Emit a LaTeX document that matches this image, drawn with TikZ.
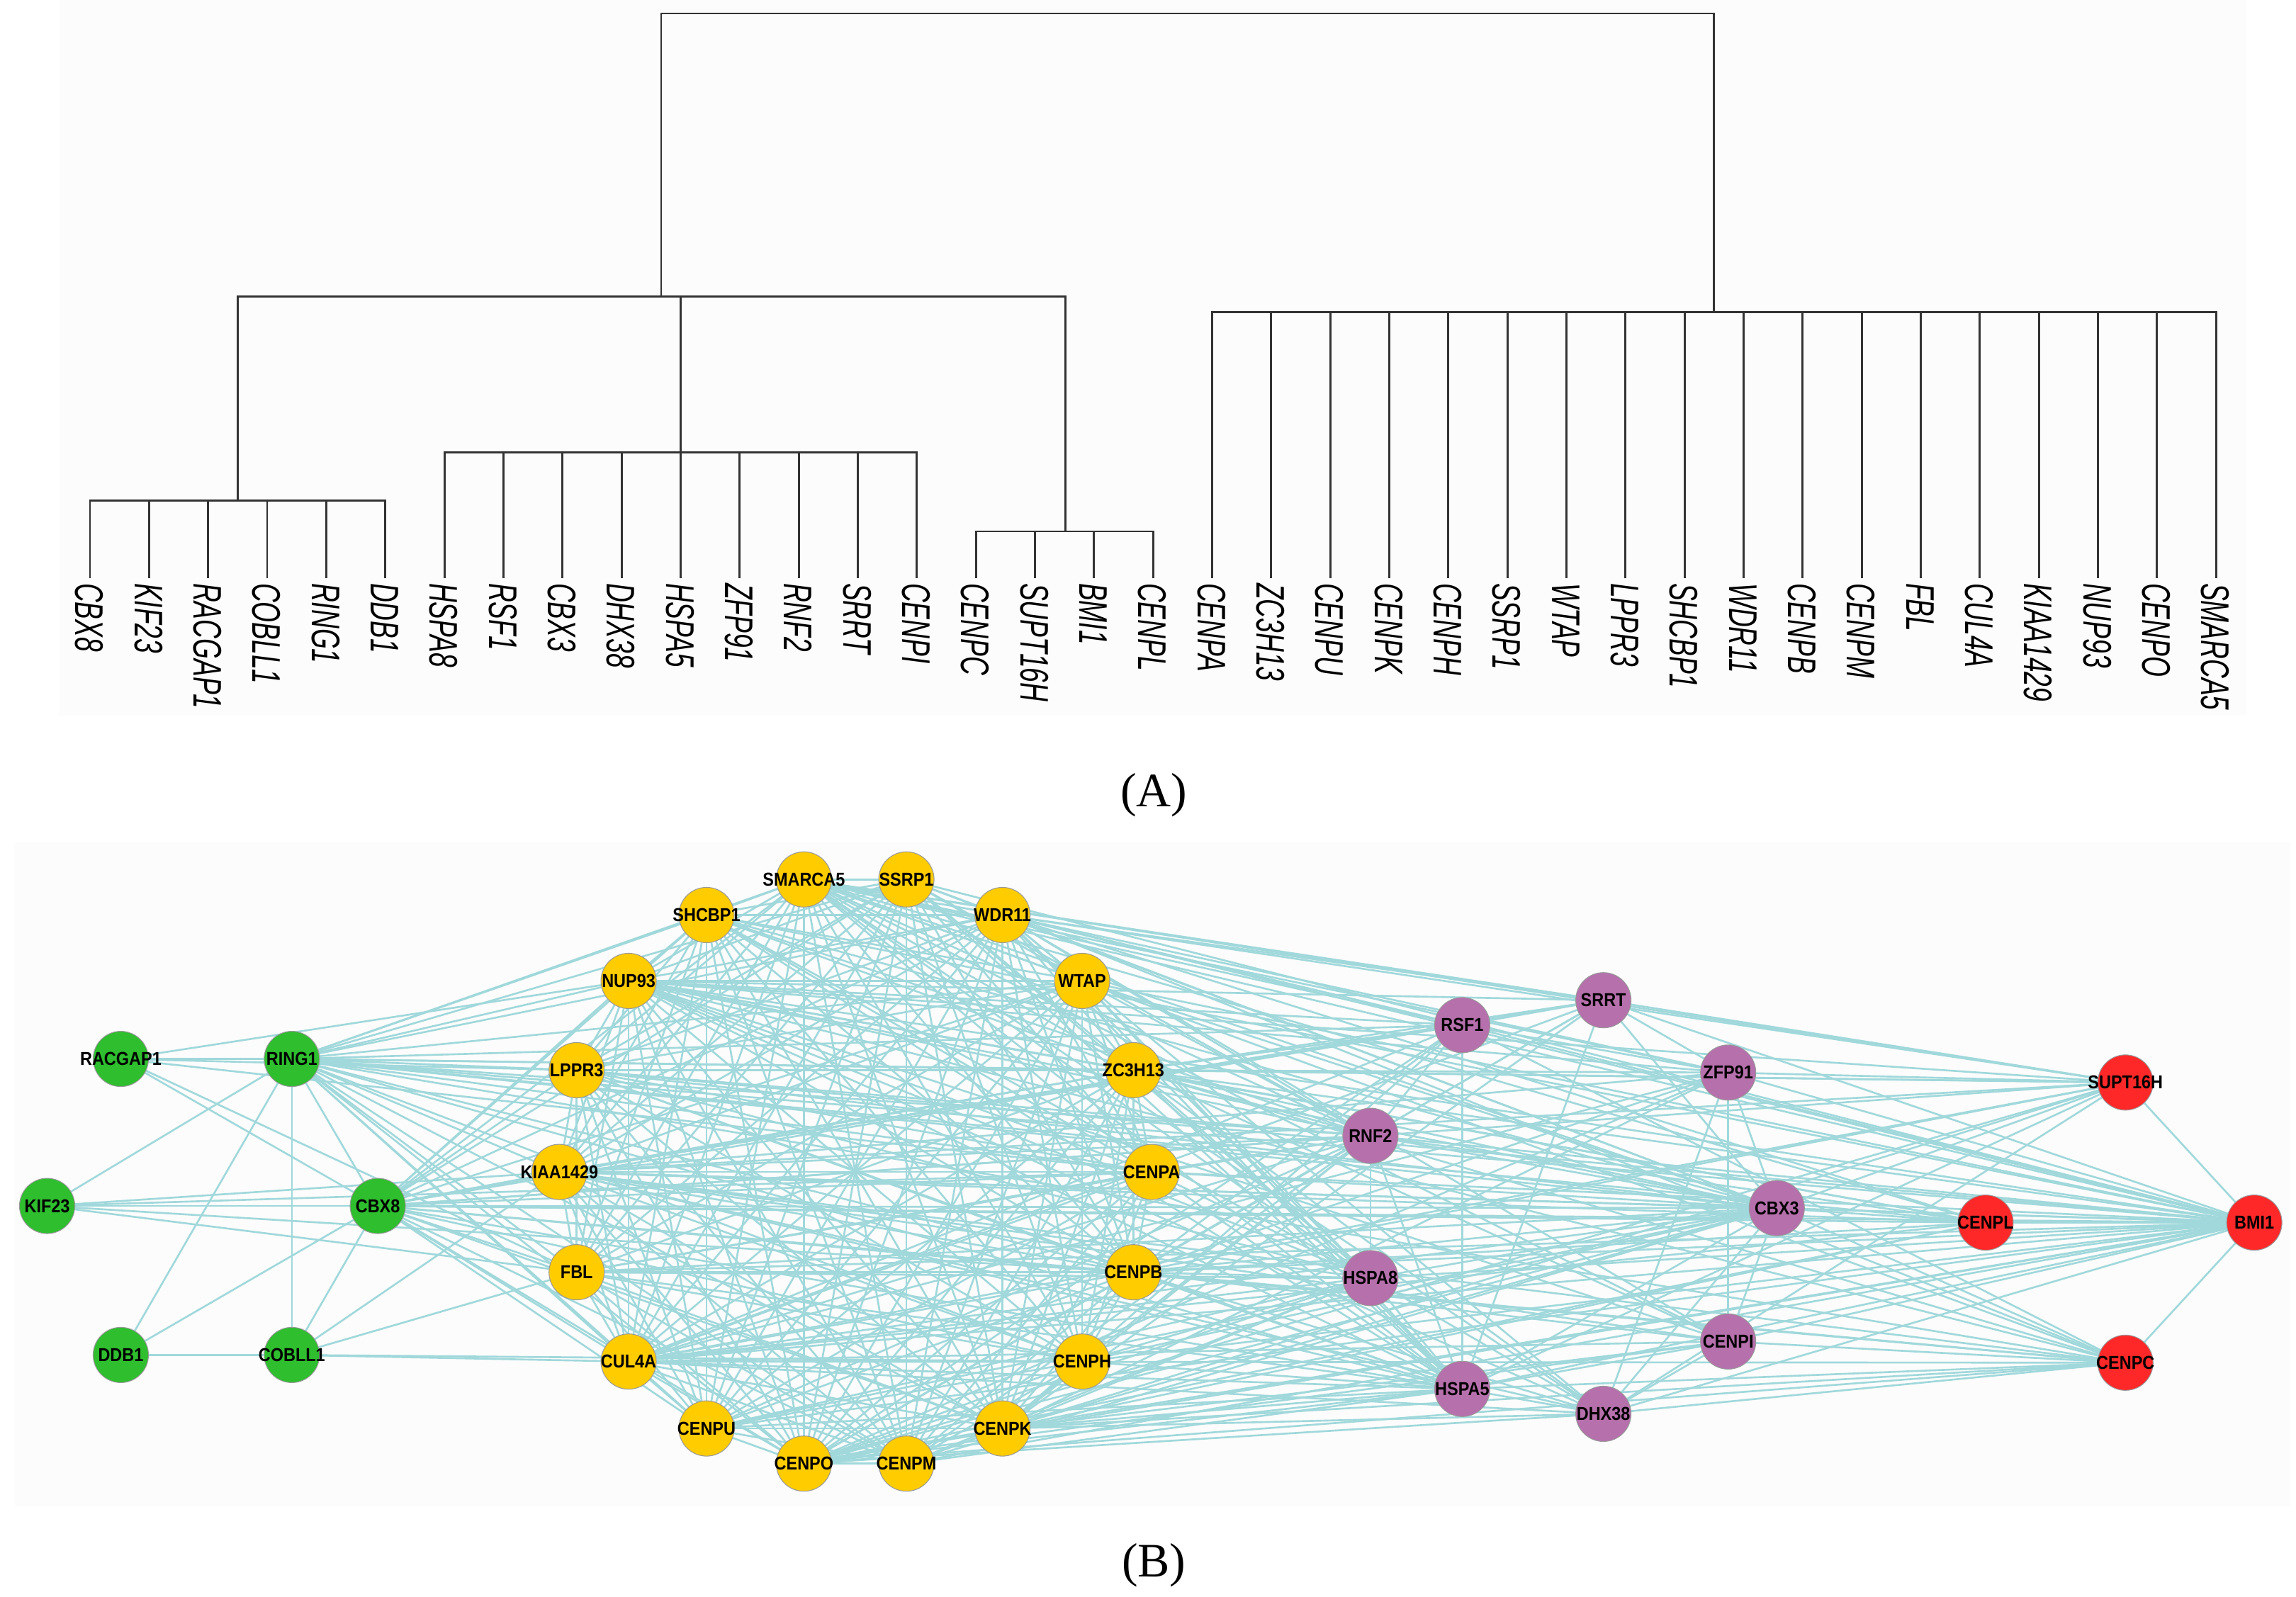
\documentclass[tikz,border=0pt]{standalone}
\usepackage{fontspec}
\usepackage{graphicx}
\setmainfont{Liberation Serif}
\newfontfamily\arial{Liberation Sans}
\definecolor{cGreen}{RGB}{46,190,46}
\definecolor{cYellow}{RGB}{255,204,0}
\definecolor{cPurple}{RGB}{182,112,172}
\definecolor{cRed}{RGB}{255,40,40}
\definecolor{cEdge}{RGB}{160,216,219}
\pgfdeclarelayer{back}
\pgfsetlayers{back,main}
\newcommand\ylist{SMARCA5,SSRP1,WDR11,WTAP,ZC3H13,CENPA,CENPB,CENPH,CENPK,CENPM,CENPO,CENPU,CUL4A,FBL,KIAA1429,LPPR3,NUP93,SHCBP1}
\tikzset{
  branch/.style={draw=black!80, line width=0.8pt},
  leaf/.style={rotate=-90, anchor=west, inner sep=0pt, text height=11.5pt, text depth=0pt,
    font=\arial\itshape\fontsize{16}{16}\selectfont},
  glbl/.style={inner sep=0pt, font=\arial\bfseries\fontsize{7.5}{8}\selectfont},
  gene/.style={circle, draw=black!40, line width=0.3pt, minimum size=7.8mm, inner sep=0pt,
    label={[glbl]center:{\scalebox{.89}[1]{#1}}}},
  edge/.style={draw=cEdge, line width=0.75pt},
  panel/.style={font=\fontsize{19.3}{22}\selectfont, anchor=base, inner sep=0pt}
}
\begin{document}
\begin{tikzpicture}[x=0.020663cm, y=-0.020663cm]
  \useasboundingbox (0,0) rectangle (1568,1090.4);
  \begin{pgfonlayer}{back}
    \fill[black!1] (40,0) rectangle (1534,489);
    \fill[black!1] (10,575) rectangle (1564,1029);
  \end{pgfonlayer}

  \foreach \n [count=\i from 0] in {CBX8,KIF23,RACGAP1,COBLL1,RING1,DDB1,HSPA8,RSF1,CBX3,DHX38,HSPA5,ZFP91,RNF2,SRRT,CENPI,CENPC,SUPT16H,BMI1,CENPL,CENPA,ZC3H13,CENPU,CENPK,CENPH,SSRP1,WTAP,LPPR3,SHCBP1,WDR11,CENPB,CENPM,FBL,CUL4A,KIAA1429,NUP93,CENPO,SMARCA5}
    \node[leaf] (t\n) at ({61.5+40.33*\i},398) {\scalebox{.66}[1]{\n}};
  \coordinate (G) at (162.5,342);
  \coordinate (P) at (465,309);
  \coordinate (Rd) at (727.5,363);
  \coordinate (L) at (451.5,202.6);
  \coordinate (Rt) at (1170.5,213);
  \coordinate (T) at (811,9.2);
  \foreach \n in {CBX8,KIF23,RACGAP1,COBLL1,RING1,DDB1}
    \draw[branch] (t\n.west) ++(0,-3) |- (G);
  \foreach \n in {HSPA8,RSF1,CBX3,DHX38,HSPA5,ZFP91,RNF2,SRRT,CENPI}
    \draw[branch] (t\n.west) ++(0,-3) |- (P);
  \foreach \n in {CENPC,SUPT16H,BMI1,CENPL}
    \draw[branch] (t\n.west) ++(0,-3) |- (Rd);
  \foreach \n in {CENPA,ZC3H13,CENPU,CENPK,CENPH,SSRP1,WTAP,LPPR3,SHCBP1,WDR11,CENPB,CENPM,FBL,CUL4A,KIAA1429,NUP93,CENPO,SMARCA5}
    \draw[branch] (t\n.west) ++(0,-3) |- (Rt);
  \draw[branch] (G) |- (L);
  \draw[branch] (P) |- (L);
  \draw[branch] (Rd) |- (L);
  \draw[branch] (L) |- (T);
  \draw[branch] (Rt) |- (T);
  \node[panel] (A) at (788,550.8) {(A)};

  \foreach \n/\x/\y in {RACGAP1/82.5/723.3, RING1/199.3/723.3, KIF23/32.2/823.7, CBX8/258/823.7, DDB1/82.5/925.5, COBLL1/199.3/925.5}
    \node[gene=\n, fill=cGreen] (\n) at (\x,\y) {};
  \foreach \n/\x/\y in {SMARCA5/549/600.7, SSRP1/619/600.7, SHCBP1/482.5/625, WDR11/684.6/625, NUP93/429.3/670, WTAP/739/670, LPPR3/393.8/731, ZC3H13/774/731, KIAA1429/382/800.5, CENPA/786.5/800.5, FBL/393.8/869, CENPB/774/869, CUL4A/429.3/930, CENPH/739/930, CENPU/482.5/975.7, CENPK/684.6/975.7, CENPO/549/999.7, CENPM/619/999.7}
    \node[gene=\n, fill=cYellow] (\n) at (\x,\y) {};
  \foreach \n/\x/\y in {SRRT/1095/683.2, RSF1/998.6/700.2, ZFP91/1180.2/732.6, RNF2/935.9/775.8, CBX3/1213.4/825.2, HSPA8/935.9/873, CENPI/1180.2/916.3, HSPA5/998.6/948.7, DHX38/1095/965.7}
    \node[gene=\n, fill=cPurple] (\n) at (\x,\y) {};
  \foreach \n/\x/\y in {SUPT16H/1451.5/739.4, CENPL/1356/835.1, BMI1/1539.5/835.1, CENPC/1451.5/930.8}
    \node[gene=\n, fill=cRed] (\n) at (\x,\y) {};

  \begin{pgfonlayer}{back}
    \foreach \a [count=\i] in \ylist {\foreach \b [count=\j] in \ylist {\ifnum\i<\j \draw[edge] (\a) -- (\b);\fi}}
    \foreach \g in {RING1,CBX8} {\foreach \b in \ylist \draw[edge] (\g) -- (\b);}
    \foreach \g in {RING1,CBX8} {\foreach \p in {RNF2,CBX3,BMI1,HSPA5,RSF1,CENPL,SUPT16H,CENPC} \draw[edge] (\g) -- (\p);}
    \foreach \b in \ylist {\foreach \p in {RNF2,CBX3,HSPA5,HSPA8,BMI1} \draw[edge] (\b) -- (\p);}
    \foreach \b in {SMARCA5,WDR11,ZC3H13,CENPB,CENPK,CENPO,CUL4A,KIAA1429,NUP93}
      {\foreach \p in {RSF1,SRRT,ZFP91,DHX38,CENPI,SUPT16H,CENPC,CENPL} \draw[edge] (\b) -- (\p);}
    \foreach \a/\b in {RACGAP1/RING1, RACGAP1/CBX8, RACGAP1/NUP93, RACGAP1/LPPR3, RACGAP1/CENPA, RACGAP1/FBL,
      KIF23/RING1, KIF23/CBX8, KIF23/KIAA1429, KIF23/CENPA, KIF23/FBL, KIF23/CENPB,
      DDB1/RING1, DDB1/CBX8, DDB1/COBLL1, COBLL1/RING1, COBLL1/CBX8, COBLL1/CUL4A, COBLL1/FBL,
      COBLL1/CENPH, COBLL1/KIAA1429, RING1/CBX8,
      RSF1/SRRT, RSF1/RNF2, RSF1/HSPA5, RSF1/ZFP91, SRRT/ZFP91, SRRT/HSPA5, SRRT/CBX3, RNF2/HSPA8,
      RNF2/CBX3, RNF2/HSPA5, ZFP91/CBX3, ZFP91/CENPI, ZFP91/DHX38, CBX3/CENPI, CBX3/HSPA5, CBX3/HSPA8,
      HSPA8/HSPA5, HSPA8/DHX38, HSPA5/DHX38, HSPA5/CENPI, DHX38/CENPI, DHX38/CBX3,
      ZFP91/SUPT16H, ZFP91/BMI1, RSF1/BMI1, SRRT/BMI1, SRRT/SUPT16H, CBX3/BMI1, CBX3/CENPL, CBX3/SUPT16H,
      CBX3/CENPC, RNF2/BMI1, RNF2/CENPL, HSPA8/BMI1, HSPA5/BMI1, HSPA5/SUPT16H, HSPA5/CENPC, DHX38/CENPC,
      DHX38/BMI1, DHX38/SUPT16H, CENPI/BMI1, CENPI/CENPC, RSF1/CENPC,
      SUPT16H/BMI1, CENPC/BMI1, CENPL/BMI1}
      \draw[edge] (\a) -- (\b);
  \end{pgfonlayer}
  \node[panel] (B) at (788,1076.8) {(B)};
\end{tikzpicture}
\end{document}
